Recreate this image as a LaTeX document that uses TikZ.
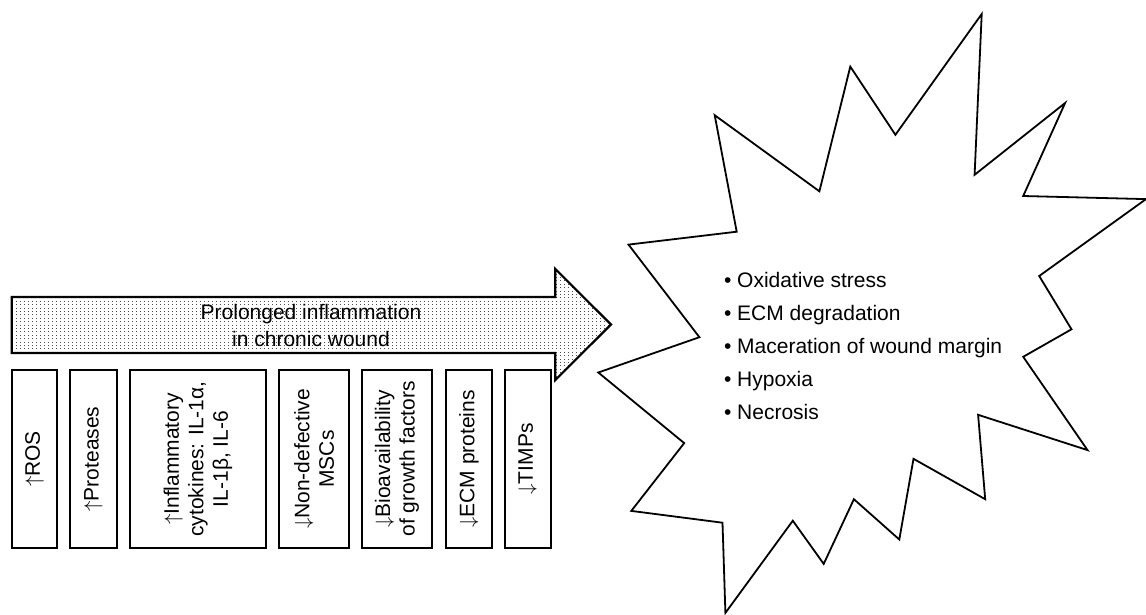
\documentclass[tikz,border=0pt]{standalone}
\usepackage{fontspec}
\setmainfont{Liberation Sans}
\usetikzlibrary{shapes, calc, patterns}
\xdef\LWS{1.8pt}
\xdef\LWA{2.2pt}
\xdef\ColorDots{black!70}
\pgfdeclarepatternformonly{wounddots}{\pgfqpoint{-1pt}{-1pt}}{\pgfqpoint{1pt}{1pt}}{\pgfqpoint{4pt}{3.4pt}}{\pgfpathrectangle{\pgfqpoint{-0.45pt}{-0.45pt}}{\pgfqpoint{0.9pt}{0.9pt}}\pgfusepath{fill}}
\newcommand{\up}{$\uparrow$}
\newcommand{\down}{$\downarrow$}

\begin{document}
\begin{tikzpicture}[x=1pt,y=-1pt,inner sep=0,outer sep=0,
factor/.style={draw,line width=\LWS,rotate=90,minimum width=178pt,align=center,font=\fontsize{21}{24.5}\selectfont},
flowtext/.style={align=center,font=\fontsize{21}{27}\selectfont},
effecttext/.style={align=left,anchor=west,font=\fontsize{21}{33}\selectfont}]
\useasboundingbox (0,0) rectangle (1146,614);
\draw[line width=\LWA,pattern=wounddots,pattern color=\ColorDots] (11.7,297)--(555.3,297)--(555.3,269)--(611,324.5)--(555.3,380)--(555.3,353)--(11.7,353)--cycle;
\node[flowtext] (flow) at (311,325) {Prolonged inflammation\\in chronic wound};
\node[factor,minimum height=45.6pt] (ros) at (34.5,459) {\up ROS};
\node[factor,minimum height=46.4pt] (proteases) at (93.5,459) {\up Proteases};
\node[factor,minimum height=135.7pt] (cytokines) at (197.9,459) {\up Inflammatory\\cytokines: IL-1α,\\IL-1β, IL-6};
\node[factor,minimum height=70pt] (mscs) at (314,459) {\down Non-defective\\MSCs};
\node[factor,minimum height=70pt] (growth) at (397,459) {\down Bioavailability\\of growth factors};
\node[factor,minimum height=46pt] (ecm) at (469,459) {\down ECM proteins};
\node[factor,minimum height=46pt] (timps) at (527.7,459) {\down TIMPs};
\draw[line width=\LWS] (981.7,14)--(974.6,174.8)--(1065.1,103)--(1023.2,196)--(1146,199.1)--(1039.2,276)--(1071.5,329.3)--(1023.2,356.8)--(1087.5,450.1)--(978.1,414.8)--(985.2,499.2)--(913.5,458.8)--(899.3,539.5)--(853.9,499.2)--(823.7,563.9)--(792.8,520.7)--(725.4,612.9)--(722.5,522.7)--(631.3,510.9)--(684.2,443.1)--(598.3,372.5)--(699.4,337.2)--(628.5,244.6)--(736.7,231.7)--(714.7,115.2)--(819.4,191.3)--(850.3,66.6)--(895.4,134.8)--cycle;
\node[effecttext] (effects) at (724,346) {• Oxidative stress\\• ECM degradation\\• Maceration of wound margin\\• Hypoxia\\• Necrosis};
\end{tikzpicture}
\end{document}
